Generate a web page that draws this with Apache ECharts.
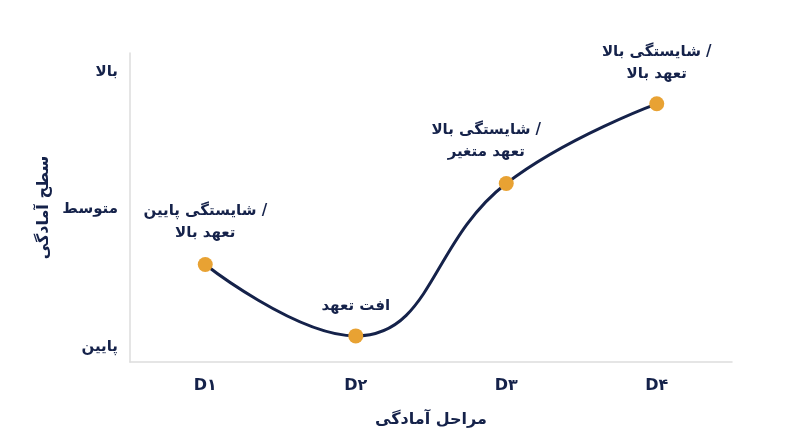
<!DOCTYPE html>
<html>
<head>
<meta charset="utf-8">
<script src="https://cdn.jsdelivr.net/npm/echarts@6/dist/echarts.min.js"></script>
<style>html,body{margin:0;background:#fff}#chart{width:800px;height:447px}</style>
</head>
<body>
<div id="chart"></div>
<script>
var stages = ['D۱', 'D۲', 'D۳', 'D۴'];
var readiness = [1.60, 1.08, 2.19, 2.77];
var pointLabels = ['شایستگی پایین /\nتعهد بالا', 'افت تعهد', 'شایستگی بالا /\nتعهد متغیر', 'شایستگی بالا /\nتعهد بالا'];
var levelValues = [1, 2, 3];
var levelNames = {1: 'پایین', 2: 'متوسط', 3: 'بالا'};

var navy = '#15224a';
var font = 'DejaVu Sans';
var labelOffsets = [[0, -8], [0, -6], [-20, -8], [0, -6]];

var option = {
	textStyle: {fontFamily: font},
	grid: {left: 130, right: 68, top: 53, bottom: 85},
	xAxis: {
		type: 'category',
		data: stages,
		name: 'مراحل آمادگی',
		nameLocation: 'middle',
		nameGap: 50,
		nameTextStyle: {color: navy, fontSize: 16, fontWeight: 'bold', fontFamily: font},
		axisLine: {lineStyle: {color: '#dddddd', width: 1.5}},
		axisTick: {show: false},
		axisLabel: {color: navy, fontSize: 16, fontWeight: 'bold', margin: 16}
	},
	yAxis: {
		type: 'value',
		min: 0.89,
		max: 3.14,
		name: 'سطح آمادگی',
		nameLocation: 'middle',
		nameGap: 78,
		nameTextStyle: {color: navy, fontSize: 16, fontWeight: 'bold', fontFamily: font},
		axisLine: {show: true, lineStyle: {color: '#dddddd', width: 1.5}},
		axisTick: {show: false},
		splitLine: {show: false},
		axisLabel: {
			customValues: levelValues,
			color: navy, fontSize: 15, fontWeight: 'bold', margin: 12,
			formatter: function (v) { return levelNames[Math.round(v)] || ''; }
		}
	},
	series: [{
		type: 'line',
		data: readiness.map(function (v, i) {
			return {value: v, label: {offset: labelOffsets[i]}};
		}),
		smooth: 0.45,
		symbol: 'circle',
		symbolSize: 15,
		lineStyle: {color: navy, width: 3},
		itemStyle: {color: '#e8a233'},
		label: {
			show: true,
			position: 'top',
			color: navy,
			fontSize: 15,
			fontWeight: 'bold',
			lineHeight: 22,
			formatter: function (p) { return pointLabels[p.dataIndex]; }
		}
	}]
};
var myChart = echarts.init(document.getElementById('chart'));
myChart.setOption(option);
</script>
</body>
</html>
